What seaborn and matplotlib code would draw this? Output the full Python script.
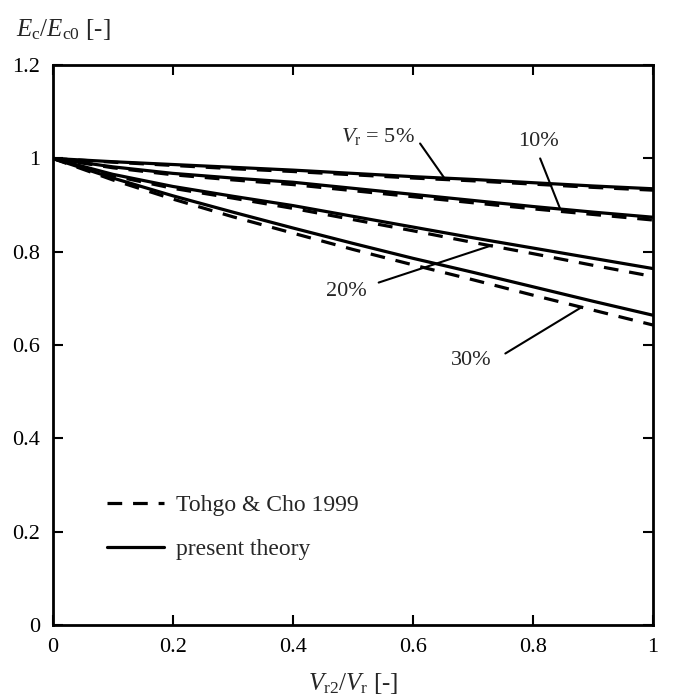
import numpy as np
import pandas as pd
import matplotlib
matplotlib.use("Agg")
import matplotlib.pyplot as plt
from matplotlib.lines import Line2D
import seaborn as sns

# V_r2 / V_r sample positions
x_vals = [0.0, 0.1, 0.2, 0.3, 0.4, 0.5, 0.6, 0.7, 0.8, 0.9, 1.0]

# present theory (solid)
theory_5 = [1.0, 0.993, 0.987, 0.981, 0.975, 0.968, 0.961, 0.955, 0.948, 0.941, 0.935]
theory_10 = [1.0, 0.982, 0.968, 0.958, 0.949, 0.936, 0.923, 0.910, 0.897, 0.885, 0.874]
theory_20 = [1.0, 0.966, 0.940, 0.919, 0.899, 0.876, 0.853, 0.830, 0.808, 0.786, 0.764]
theory_30 = [1.0, 0.958, 0.920, 0.885, 0.851, 0.818, 0.786, 0.756, 0.725, 0.694, 0.664]

# Tohgo & Cho 1999 (dashed)
tohgo_5 = [1.0, 0.992, 0.985, 0.978, 0.972, 0.965, 0.958, 0.952, 0.945, 0.938, 0.932]
tohgo_10 = [1.0, 0.980, 0.965, 0.954, 0.944, 0.931, 0.918, 0.905, 0.892, 0.880, 0.868]
tohgo_20 = [1.0, 0.963, 0.936, 0.915, 0.893, 0.869, 0.845, 0.820, 0.796, 0.771, 0.747]
tohgo_30 = [1.0, 0.954, 0.913, 0.875, 0.840, 0.805, 0.772, 0.740, 0.707, 0.675, 0.643]

x_ticks = [0, 0.2, 0.4, 0.6, 0.8, 1]
x_tick_labels = ["0", "0.2", "0.4", "0.6", "0.8", "1"]
y_ticks = [0, 0.2, 0.4, 0.6, 0.8, 1, 1.2]
y_tick_labels = ["0", "0.2", "0.4", "0.6", "0.8", "1", "1.2"]

series = {
    ("present theory", 5): theory_5,
    ("present theory", 10): theory_10,
    ("present theory", 20): theory_20,
    ("present theory", 30): theory_30,
    ("Tohgo & Cho 1999", 5): tohgo_5,
    ("Tohgo & Cho 1999", 10): tohgo_10,
    ("Tohgo & Cho 1999", 20): tohgo_20,
    ("Tohgo & Cho 1999", 30): tohgo_30,
}

rows = []
for (source, vr), ys in series.items():
    for xv, yv in zip(x_vals, ys):
        rows.append({"x": xv, "y": yv, "source": source, "Vr": vr})
df = pd.DataFrame(rows)

sns.set_theme(style="ticks")
plt.rcParams["font.family"] = ["Liberation Serif", "DejaVu Serif"]
plt.rcParams["mathtext.fontset"] = "custom"
plt.rcParams["mathtext.rm"] = "Liberation Serif"
plt.rcParams["mathtext.it"] = "Liberation Serif:italic"

fig = plt.figure(figsize=(6.73, 7.0), dpi=100)
ax = fig.add_axes([0.0783, 0.107, 0.892, 0.8])

lw = 2.3
dash = (4.6, 3.4)
sns.lineplot(
    data=df, x="x", y="y", style="source", units="Vr", estimator=None,
    dashes={"present theory": "", "Tohgo & Cho 1999": dash},
    color="black", linewidth=lw, legend=False, ax=ax,
)

ax.set_xlim(0, 1)
ax.set_ylim(0, 1.2)
ax.set_xticks(x_ticks)
ax.set_xticklabels(x_tick_labels)
ax.set_yticks(y_ticks)
ax.set_yticklabels(y_tick_labels)
ax.tick_params(direction="in", length=7, width=1.5, top=True, right=True,
               labelsize=16, pad=9, colors="black")
for sp in ax.spines.values():
    sp.set_linewidth(2.0)
    sp.set_color("black")
ax.set_xlabel("")
ax.set_ylabel("")

fig.text(0.525, 0.024, r"$V_{\mathrm{r2}}/V_{\mathrm{r}}$ [-]", ha="center",
         va="center", fontsize=18)
fig.text(0.024, 0.958, r"$E_{\mathrm{c}}/E_{\mathrm{c0}}$ [-]", ha="left",
         va="center", fontsize=18)

# curve labels with pointer lines
labels = [
    (r"$V_{\mathrm{r}}$ = 5%", (0.542, 1.046), (0.612, 1.032), (0.654, 0.955)),
    ("10%", (0.809, 1.036), (0.812, 1.000), (0.845, 0.893)),
    ("20%", (0.490, 0.714), (0.543, 0.734), (0.732, 0.814)),
    ("30%", (0.698, 0.568), (0.754, 0.582), (0.882, 0.682)),
]
for txt, tpos, p0, p1 in labels:
    ax.text(tpos[0], tpos[1], txt, ha="center", va="center", fontsize=16)
    ax.plot([p0[0], p1[0]], [p0[1], p1[1]], color="black", linewidth=1.5)

handles = [
    Line2D([], [], color="black", linewidth=lw, linestyle=(0, dash)),
    Line2D([], [], color="black", linewidth=lw),
]
ax.legend(handles, ["Tohgo & Cho 1999", "present theory"], loc="lower left",
          bbox_to_anchor=(0.075, 0.0996), frameon=False, fontsize=17,
          handlelength=2.4, handletextpad=0.5, labelspacing=0.94,
          borderaxespad=0)

fig.savefig("out.png", dpi=100)
